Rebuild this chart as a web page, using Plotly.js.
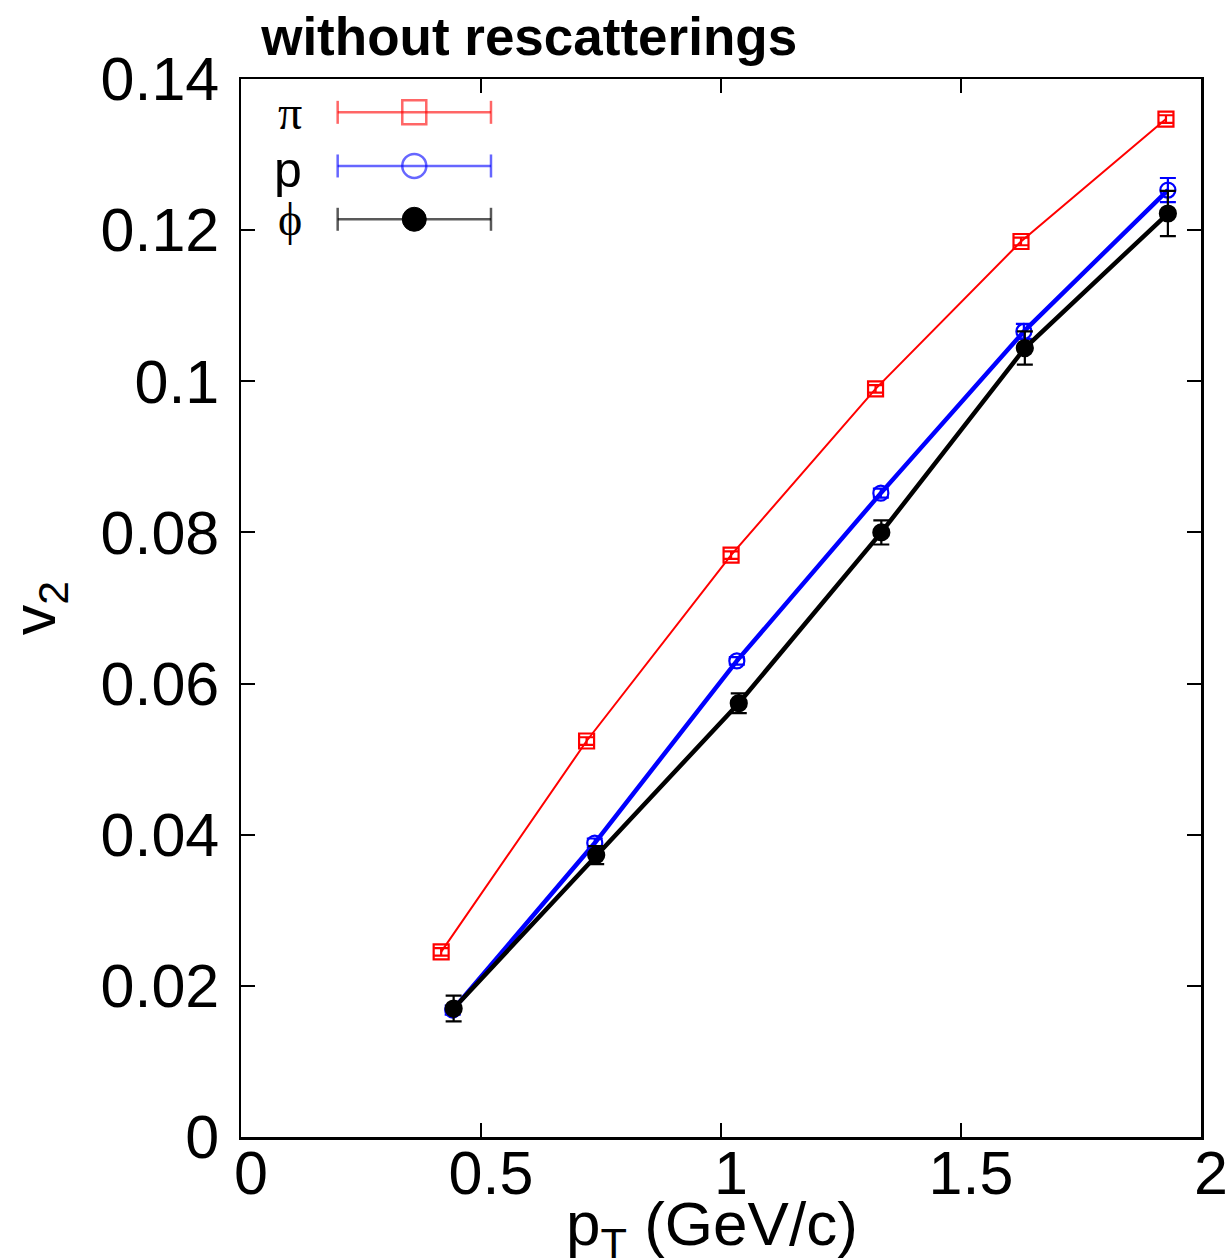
<!DOCTYPE html>
<html>
<head>
<meta charset="utf-8">
<script src="https://cdn.plot.ly/plotly-3.0.1.min.js"></script>
<style>html,body{margin:0;padding:0;background:#fff;}#chart{width:1231px;height:1260px;}</style>
</head>
<body>
<div id="chart"></div>
<script>
// ---- data ----
var seriesNames = ["\u03c0", "p", "\u03d5"];

var pionPt  = [0.417, 0.720, 1.021, 1.322, 1.625, 1.927];
var pionV2  = [0.0245, 0.0524, 0.0770, 0.0990, 0.1185, 0.1347];
var pionErr = [0.0005, 0.0005, 0.0005, 0.0005, 0.0005, 0.0005];

var protonPt  = [0.441, 0.737, 1.033, 1.333, 1.631, 1.931];
var protonV2  = [0.0168, 0.0389, 0.0630, 0.0852, 0.1066, 0.1253];
var protonErr = [0.0006, 0.0006, 0.0005, 0.0006, 0.0010, 0.0016];

var phiPt  = [0.443, 0.740, 1.037, 1.334, 1.633, 1.931];
var phiV2  = [0.0170, 0.0373, 0.0574, 0.0800, 0.1044, 0.1222];
var phiErr = [0.0017, 0.0012, 0.0013, 0.0016, 0.0022, 0.0030];

var xTickVals = [0, 0.5, 1, 1.5, 2];
var yTickVals = [0, 0.02, 0.04, 0.06, 0.08, 0.1, 0.12, 0.14];

// ---- styles ----
var colors = ["#ff0000", "#0000ff", "#000000"];
var legendColors = ["rgba(255,0,0,0.6)", "rgba(0,0,255,0.6)", "rgba(0,0,0,0.65)"];

function mkTrace(x, y, err, name, color, symbol, size, lw, capw) {
  return {
    type: "scatter", mode: "lines+markers", name: name, x: x, y: y,
    line: {color: color, width: lw},
    marker: {symbol: symbol, size: size, color: color, line: {color: color, width: 2.2}},
    error_y: {type: "data", array: err, visible: true, color: color, thickness: 2.2, width: capw},
    showlegend: false, cliponaxis: false
  };
}

var traces = [
  mkTrace(pionPt, pionV2, pionErr, seriesNames[0], colors[0], "square-open", 15, 2, 7),
  mkTrace(protonPt, protonV2, protonErr, seriesNames[1], colors[1], "circle-open", 15, 4.5, 8),
  mkTrace(phiPt, phiV2, phiErr, seriesNames[2], colors[2], "circle", 16, 4.5, 8)
];

// ---- hand-built legend (labels left of sample, like the reference) ----
var legRowsY = [0.9685, 0.9178, 0.8674];
var legX0 = 0.1007, legX1 = 0.2604, legXm = 0.1805, legTextX = 0.066;
var legFonts = [
  {family: "Liberation Serif, DejaVu Serif, serif", size: 48, color: "#000"},
  {family: "Liberation Sans, Arial, sans-serif", size: 50, color: "#000"},
  {family: "Liberation Serif, DejaVu Serif, serif", size: 46, color: "#000"}
];
var shapes = [], annotations = [];
for (var i = 0; i < 3; i++) {
  var yy = legRowsY[i], c = legendColors[i];
  shapes.push({type: "line", xref: "paper", yref: "paper", x0: legX0, x1: legX1, y0: yy, y1: yy,
               line: {color: c, width: 2.5}});
  [legX0, legX1].forEach(function (xc) {
    shapes.push({type: "line", xref: "paper", yref: "paper", ysizemode: "pixel", yanchor: yy,
                 x0: xc, x1: xc, y0: -11.5, y1: 11.5, line: {color: c, width: 2.5}});
  });
  var shp = {xref: "paper", yref: "paper", xsizemode: "pixel", ysizemode: "pixel",
             xanchor: legXm, yanchor: yy, x0: -12, x1: 12, y0: -12, y1: 12};
  if (i === 0) { shp.type = "rect"; shp.line = {color: c, width: 2.5}; shp.fillcolor = "rgba(0,0,0,0)"; }
  else if (i === 1) { shp.type = "circle"; shp.line = {color: c, width: 2.5}; shp.fillcolor = "rgba(0,0,0,0)"; }
  else { shp.type = "circle"; shp.line = {color: "#000", width: 1}; shp.fillcolor = "#000"; }
  shapes.push(shp);
  annotations.push({xref: "paper", yref: "paper", x: legTextX, y: yy + (i === 1 ? -0.004 : 0),
                    xanchor: "right", yanchor: "middle", text: seriesNames[i], showarrow: false,
                    font: legFonts[i]});
}

var tickFont = {family: "Liberation Sans, Arial, Helvetica, sans-serif", size: 61, color: "#000"};
var xTitleFont = {family: "Liberation Sans, Arial, Helvetica, sans-serif", size: 62, color: "#000"};

// x-axis title as an annotation for exact placement
annotations.push({xref: "paper", yref: "paper", x: 0.4906, y: 0, xanchor: "center", yanchor: "top",
                  yshift: -50, text: "p<sub>T</sub> (GeV/c)", showarrow: false, font: xTitleFont});

var layout = {
  width: 1231, height: 1260,
  paper_bgcolor: "#fff", plot_bgcolor: "#fff",
  margin: {l: 241, r: 30, t: 79, b: 123, pad: 0},
  showlegend: false,
  title: {
    text: "<b>without rescatterings</b>",
    font: {family: "Liberation Sans, Arial, Helvetica, sans-serif", size: 53, color: "#000"},
    xref: "paper", x: 0.021, xanchor: "left",
    yref: "container", y: 0.971, yanchor: "middle"
  },
  xaxis: {
    range: [0, 2], tickvals: xTickVals, ticks: "inside", ticklen: 14, tickwidth: 2, tickcolor: "#000",
    showline: true, linecolor: "#000", linewidth: 2.5, mirror: "allticks",
    showgrid: false, zeroline: false, tickfont: tickFont, ticklabelstandoff: -19, ticklabelshift: 10,
    automargin: false
  },
  yaxis: {
    range: [0, 0.14], tickvals: yTickVals, ticks: "inside", ticklen: 14, tickwidth: 2, tickcolor: "#000",
    showline: true, linecolor: "#000", linewidth: 2.5, mirror: "allticks",
    showgrid: false, zeroline: false, tickfont: tickFont, ticklabelstandoff: 7,
    automargin: false,
    title: {text: "v<sub>2</sub>", font: tickFont, standoff: 37}
  },
  shapes: shapes,
  annotations: annotations
};

Plotly.newPlot("chart", traces, layout, {displayModeBar: false, staticPlot: true});
</script>
</body>
</html>
